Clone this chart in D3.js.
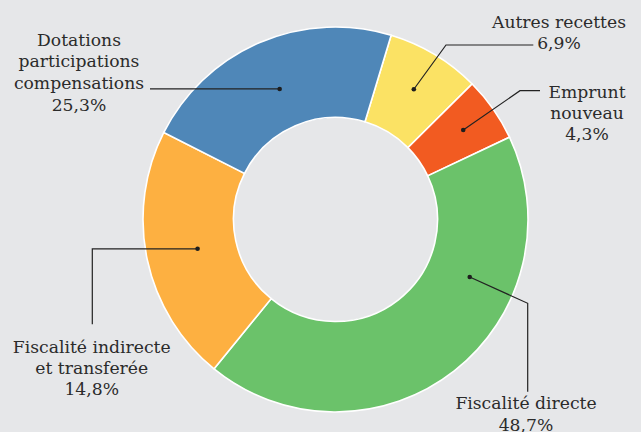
<!DOCTYPE html>
<html>
<head>
<meta charset="utf-8">
<script src="https://cdn.jsdelivr.net/npm/d3@7"></script>
<style>
  html, body { margin: 0; padding: 0; background: #e6e7e9; }
  svg { display: block; }
  text { font-family: "DejaVu Serif", "Liberation Serif", serif; fill: #2b2b2b; }
</style>
</head>
<body>
<svg id="chart" width="641" height="432"></svg>
<script>
// Categories in clockwise order starting after the top
const categories = ["Autres recettes", "Emprunt nouveau", "Fiscalité directe", "Fiscalité indirecte et transferée", "Dotations participations compensations"];
// Slice sizes as drawn in the picture (share of the ring)
const sliceValues = [7.9, 5.4, 42.9, 21.6, 22.2];
// Percentages printed in the labels
const labelPercents = ["6,9%", "4,3%", "48,7%", "14,8%", "25,3%"];
const labelLines = [
  ["Autres recettes"],
  ["Emprunt", "nouveau"],
  ["Fiscalité directe"],
  ["Fiscalité indirecte", "et transferée"],
  ["Dotations", "participations", "compensations"]
];
const colors = ["#fbe264", "#f25b21", "#6bc26a", "#fdb041", "#4f87b8"];

// Layout (annotation placement)
const W = 641, H = 432;
const cx = 335.5, cy = 219.5, outerR = 192.5, innerR = 102;
const startDeg = 16.8;
const dotFrac = [0.5, 0.5, 0.314, 0.5, 0.5];   // where along each slice the leader dot sits
const dotR = [152, 156, 146, 141, 142];
const textPos = [
  {x: 559, y: 28.3, dy: 21},
  {x: 587, y: 98.3, dy: 21},
  {x: 526, y: 409.3, dy: 21.3},
  {x: 91.7, y: 352.7, dy: 21.2},
  {x: 79, y: 45.7, dy: 21.6}
];
// leader line bends (after dot), in order
const leaderPts = [
  [[446, 45], [533.3, 45]],
  [[520, 90.7], [540, 90.7]],
  [[527.7, 303.3], [527.7, 391.7]],
  [[92.3, null], [92.3, 324.3]],
  [[150, null]]
];

const svg = d3.select("#chart");
svg.append("rect").attr("width", W).attr("height", H).attr("fill", "#e6e7e9");
const g = svg.append("g").attr("transform", `translate(${cx},${cy})`);

const rad = d => d * Math.PI / 180;
const pie = d3.pie().sort(null).value(d => d)
  .startAngle(rad(startDeg)).endAngle(rad(startDeg) + 2 * Math.PI);
const arcs = pie(sliceValues);
const arc = d3.arc().innerRadius(innerR).outerRadius(outerR);

g.selectAll("path.slice").data(arcs).join("path")
  .attr("class", "slice")
  .attr("d", arc)
  .attr("fill", (d, i) => colors[i])
  .attr("stroke", "#ffffff")
  .attr("stroke-width", 1.6);

// leader lines + dots
arcs.forEach((a, i) => {
  const ang = a.startAngle + (a.endAngle - a.startAngle) * dotFrac[i];
  const px = cx + dotR[i] * Math.sin(ang);
  const py = cy - dotR[i] * Math.cos(ang);
  const pts = [[px, py]];
  leaderPts[i].forEach(p => pts.push([p[0], p[1] == null ? py : p[1]]));
  svg.append("path")
    .attr("d", d3.line()(pts))
    .attr("fill", "none")
    .attr("stroke", "#222")
    .attr("stroke-width", 1.2);
  svg.append("circle").attr("cx", px).attr("cy", py).attr("r", 2.3).attr("fill", "#1e1e1e");
});

// labels
categories.forEach((c, i) => {
  const lines = labelLines[i].concat([labelPercents[i]]);
  const t = svg.append("text")
    .attr("text-anchor", "middle")
    .attr("font-size", "17.2px");
  lines.forEach((ln, k) => {
    t.append("tspan").attr("x", textPos[i].x).attr("y", textPos[i].y + k * textPos[i].dy).text(ln);
  });
});
</script>
</body>
</html>
